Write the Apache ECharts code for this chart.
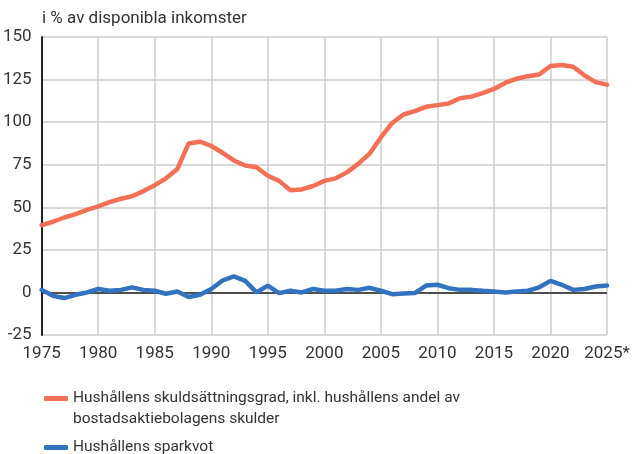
<!DOCTYPE html>
<html>
<head>
<meta charset="utf-8">
<script src="https://cdn.jsdelivr.net/npm/echarts@6/dist/echarts.min.js"></script>
<style>
  html, body { margin: 0; padding: 0; background: #fff; }
  #main { width: 633px; height: 454px; }
</style>
</head>
<body>
<div id="main"></div>
<script>
// years 1975..2025
var years = [1975, 1976, 1977, 1978, 1979, 1980, 1981, 1982, 1983, 1984,
  1985, 1986, 1987, 1988, 1989, 1990, 1991, 1992, 1993, 1994,
  1995, 1996, 1997, 1998, 1999, 2000, 2001, 2002, 2003, 2004,
  2005, 2006, 2007, 2008, 2009, 2010, 2011, 2012, 2013, 2014,
  2015, 2016, 2017, 2018, 2019, 2020, 2021, 2022, 2023, 2024, 2025]

var skuldsattning = [39.5, 41.5, 44, 46, 48.5, 50.5, 53, 55, 56.5, 59.5,
  63, 67, 72.5, 87.5, 88.5, 86, 82, 77.5, 74.5, 73.5,
  68.5, 65.5, 60, 60.5, 62.5, 65.5, 67, 70.5, 75.5, 81.5,
  91, 99.5, 104.5, 106.5, 109, 110, 111, 114, 115, 117,
  119.5, 123, 125.5, 127, 128, 133, 133.5, 132.5, 127.5, 123.5, 122]

var sparkvot = [1.5, -2, -3.3, -1.4, 0, 2, 1, 1.5, 3, 1.5,
  1, -0.8, 0.5, -2.7, -1.4, 2, 7, 9.4, 6.8, 0,
  4, -0.4, 1, 0, 2, 1, 1, 2, 1.5, 2.7,
  1, -1, -0.6, -0.4, 4, 4.5, 2.5, 1.5, 1.5, 1,
  0.6, 0, 0.6, 1, 3, 6.8, 4.5, 1.5, 2, 3.5, 4]

var names = ['Hushållens skuldsättningsgrad, inkl. hushållens andel av bostadsaktiebolagens skulder',
  'Hushållens sparkvot']

var fontFamily = 'Roboto, sans-serif'

function pairs(vals) {
  return years.map(function (y, i) { return [y, vals[i]] })
}

var legendBase = {
  orient: 'vertical',
  left: 44,
  padding: 0,
  itemWidth: 24,
  itemHeight: 5,
  itemGap: 0,
  icon: 'roundRect'
}

var chart = echarts.init(document.getElementById('main'))
chart.setOption({
  animation: false,
  textStyle: { fontFamily: fontFamily },
  title: {
    text: 'i % av disponibla inkomster',
    left: 37,
    top: 5,
    textStyle: { fontSize: 17, fontWeight: 'normal', color: '#333', fontFamily: fontFamily }
  },
  grid: {
    left: 41,
    right: 26,
    top: 37,
    bottom: 119,
    containLabel: false
  },
  legend: [
    Object.assign({}, legendBase, {
      top: 367,
      data: [names[0]],
      // blank first line so the icon sits level with the first text line
      formatter: function (n) {
        return ' \n' + n.replace(' bostadsaktiebolagens', '\nbostadsaktiebolagens')
      },
      textStyle: { fontSize: 15.5, color: '#333', lineHeight: 21, fontFamily: fontFamily }
    }),
    Object.assign({}, legendBase, {
      top: 437,
      data: [names[1]],
      textStyle: { fontSize: 15.5, color: '#333', lineHeight: 21, fontFamily: fontFamily }
    })
  ],
  xAxis: {
    type: 'value',
    min: 1975,
    max: 2025,
    interval: 5,
    axisLine: { show: false },
    axisTick: { show: false },
    splitLine: { show: true, lineStyle: { color: '#cccccc', width: 1.5 } },
    axisLabel: {
      fontSize: 17,
      color: '#333',
      margin: 10,
      formatter: function (v) { return v === 2025 ? '2025*' : String(v) }
    }
  },
  yAxis: {
    type: 'value',
    min: -25,
    max: 150,
    interval: 25,
    axisLine: { show: true, onZero: false, lineStyle: { color: '#222', width: 2 } },
    axisTick: { show: false },
    splitLine: { show: true, lineStyle: { color: '#cccccc', width: 1.5 } },
    axisLabel: { fontSize: 17, color: '#333', margin: 10 }
  },
  series: [
    {
      name: names[0],
      type: 'line',
      data: pairs(skuldsattning),
      symbol: 'none',
      lineStyle: { width: 4.5, color: '#f36f55', cap: 'round' },
      itemStyle: { color: '#f36f55' },
      z: 3
    },
    {
      name: names[1],
      type: 'line',
      data: pairs(sparkvot),
      symbol: 'none',
      lineStyle: { width: 4.5, color: '#3173bf', cap: 'round' },
      itemStyle: { color: '#3173bf' },
      z: 3,
      markLine: {
        silent: true,
        symbol: 'none',
        label: { show: false },
        lineStyle: { color: '#222', width: 1.5, type: 'solid' },
        z: 2,
        data: [{ yAxis: 0 }]
      }
    }
  ]
})
</script>
</body>
</html>
